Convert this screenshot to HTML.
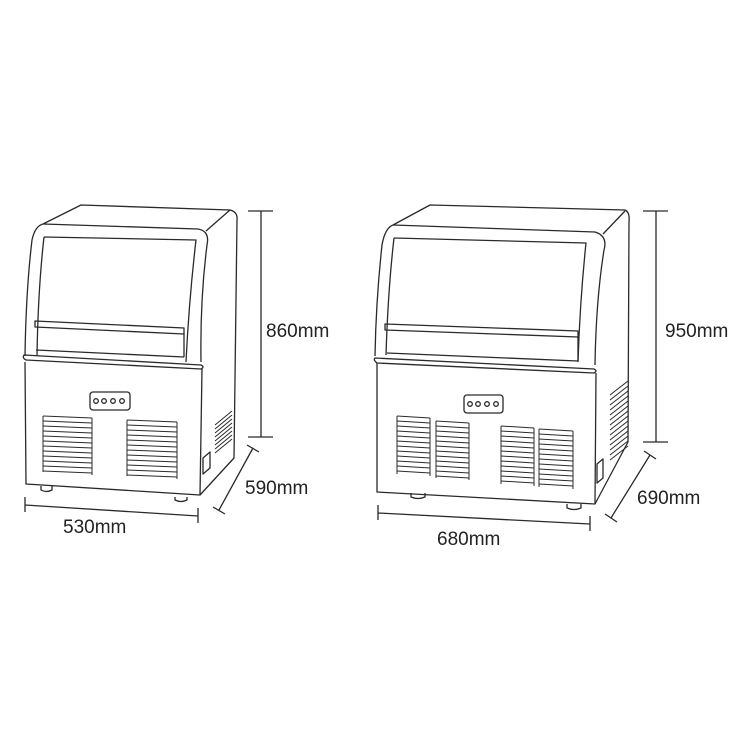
<!DOCTYPE html>
<html><head><meta charset="utf-8"><style>
html,body{margin:0;padding:0;background:#fff;}
svg{display:block}
text{font-family:"Liberation Sans",sans-serif;font-size:19px;fill:#222;}
</style></head><body>
<svg width="750" height="750" viewBox="0 0 750 750" xmlns="http://www.w3.org/2000/svg">
<g fill="none" stroke="#2a2a2a" stroke-width="1.3" stroke-linejoin="round">
<!-- LEFT MACHINE -->
<path d="M43,224 L81,205 L230,210 Q238,212 237,220 L234,458 L200,495 L26,484 L25,362"/>
<path d="M206,231 L230,210"/>
<path d="M43,224 L198,229 Q210,231 207,245 Q200,300 201,362"/>
<path d="M43,224 Q35,226 32,240 Q26,290 25,356"/>
<path d="M44,237 L196,240 Q189,300 186,362"/>
<path d="M44,237 Q38,290 37,356"/>
<path d="M35,321 L184,328 L184,334 L35,327 Z"/>
<path d="M36,350 L184,357"/>
<path d="M184,334 L184,357"/>
<path d="M24,355 L201,365 Q205,367 201,369 L26,360 Q22,358 24,355 Z"/>
<path d="M202,369 L200,495"/>
<rect x="90" y="392" width="40" height="18" rx="3"/>
<circle cx="96" cy="401" r="2.3"/><circle cx="104" cy="401" r="2.3"/><circle cx="113" cy="401" r="2.3"/><circle cx="122" cy="401" r="2.3"/>
<g stroke-width="1">
<path d="M43,416 l49,2 M43,421 l49,2 M43,426 l49,2 M43,431 l49,2 M43,436 l49,2 M43,441 l49,2 M43,446 l49,2 M43,451 l49,2 M43,456 l49,2 M43,461 l49,2 M43,466 l49,2 M43,471 l49,2"/>
<path d="M43,416 v56 M92,418 v57"/>
<path d="M127,420 l50,2 M127,425 l50,2 M127,430 l50,2 M127,435 l50,2 M127,440 l50,2 M127,445 l50,2 M127,450 l50,2 M127,455 l50,2 M127,460 l50,2 M127,465 l50,2 M127,470 l50,2 M127,475 l50,2"/>
<path d="M127,420 v56 M177,422 v57"/>
<path d="M215,425 l17,-14 M215,429 l17,-14 M215,433 l17,-14 M215,437 l17,-14 M215,441 l17,-14 M215,445 l17,-14 M215,449 l17,-14 M215,453 l17,-14"/>
</g>
<path d="M203,458 L210,452 V468 L203,474 Z"/>
<path d="M41,486 v4 q5,3 11,0 v-4"/>
<path d="M175,497 v3 q6,3 12,0 v-3"/>
<!-- dims left -->
<path d="M261,211 V437 M248,211 H273 M248,437 H273"/>
<path d="M253,448 L219,510 M247,445 L259,452 M213,507 L225,514"/>
<path d="M25,505 L198,516 M25,497 V512 M198,508 V523"/>

<!-- RIGHT MACHINE -->
<path d="M393,225 L430,205 L625,210 Q630,212 629,222 L628,442 L595,504 L377,492 L377,363"/>
<path d="M603,234 L625,211"/>
<path d="M393,225 L595,232 Q608,236 604,250 Q596,300 595,365"/>
<path d="M393,225 Q385,228 382,245 Q376,300 375,356"/>
<path d="M394,238 L586,243 Q580,300 578,362"/>
<path d="M394,238 Q388,290 386,355"/>
<path d="M385,324 L578,331 L578,337 L385,330 Z"/>
<path d="M387,353 L578,361"/>
<path d="M578,337 L578,361"/>
<path d="M375,358 L594,369 Q598,371 594,373 L377,363 Q373,360 375,358 Z"/>
<path d="M596,373 L595,504"/>
<rect x="464" y="395" width="39" height="18" rx="3"/>
<circle cx="470" cy="404" r="2.3"/><circle cx="478" cy="404" r="2.3"/><circle cx="487" cy="404" r="2.3"/><circle cx="496" cy="404" r="2.3"/>
<g stroke-width="1">
<path d="M397,416 l33,2 M397,421 l33,2 M397,426 l33,2 M397,431 l33,2 M397,436 l33,2 M397,441 l33,2 M397,446 l33,2 M397,451 l33,2 M397,456 l33,2 M397,461 l33,2 M397,466 l33,2 M397,471 l33,2"/>
<path d="M397,416 v58 M430,418 v58"/>
<path d="M436,421 l33,2 M436,426 l33,2 M436,431 l33,2 M436,436 l33,2 M436,441 l33,2 M436,446 l33,2 M436,451 l33,2 M436,456 l33,2 M436,461 l33,2 M436,466 l33,2 M436,471 l33,2 M436,476 l33,2"/>
<path d="M436,421 v57 M469,423 v57"/>
<path d="M501,426 l33,2 M501,431 l33,2 M501,436 l33,2 M501,441 l33,2 M501,446 l33,2 M501,451 l33,2 M501,456 l33,2 M501,461 l33,2 M501,466 l33,2 M501,471 l33,2 M501,476 l33,2 M501,481 l33,2"/>
<path d="M501,426 v58 M534,428 v58"/>
<path d="M539,429 l34,2 M539,434 l34,2 M539,439 l34,2 M539,444 l34,2 M539,449 l34,2 M539,454 l34,2 M539,459 l34,2 M539,464 l34,2 M539,469 l34,2 M539,474 l34,2 M539,479 l34,2 M539,484 l34,2"/>
<path d="M539,429 v58 M573,431 v58"/>
<path d="M610,395 l18,-14 M610,400 l18,-14 M610,405 l18,-14 M610,410 l18,-14 M610,415 l18,-14 M610,420 l18,-14 M610,425 l18,-14 M610,430 l18,-14 M610,435 l18,-14 M610,440 l18,-14 M610,445 l18,-14 M610,450 l18,-14 M610,455 l18,-14 M610,460 l18,-14"/>
</g>
<path d="M597,464 L603,459 V478 L597,483 Z"/>
<path d="M411,493 v4 q7,3 14,0 v-4"/>
<path d="M567,504 v4 q7,3 14,0 v-4"/>
<!-- dims right -->
<path d="M656,211 V442 M643,211 H668 M643,442 H668"/>
<path d="M650,455 L611,518 M644,451 L656,459 M605,514 L617,522"/>
<path d="M378,513 L590,524 M378,505 V520 M590,516 V531"/>
</g>
<text x="266" y="337">860mm</text>
<text x="245" y="494">590mm</text>
<text x="63" y="533">530mm</text>
<text x="665" y="337">950mm</text>
<text x="637" y="504">690mm</text>
<text x="437" y="545">680mm</text>
</svg>
</body></html>
